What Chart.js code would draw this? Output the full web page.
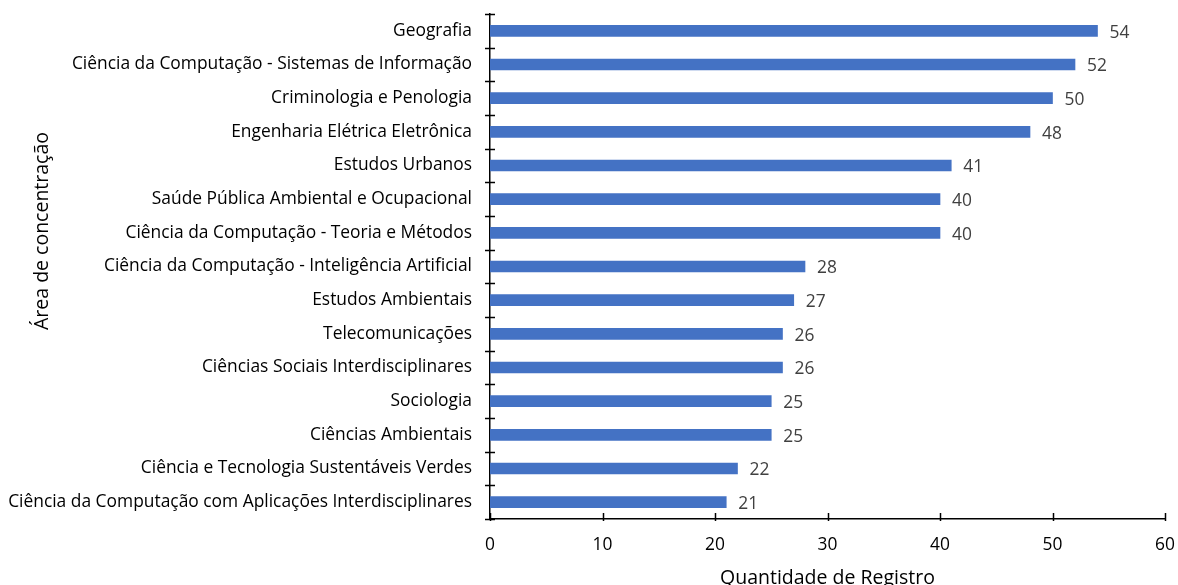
<!DOCTYPE html>
<html>
<head>
<meta charset="utf-8">
<script src="https://cdn.jsdelivr.net/npm/chart.js@4"></script>
<style>
  html, body { margin: 0; padding: 0; background: #fff; }
  #wrap { width: 1178px; height: 585px; }
</style>
</head>
<body>
<div id="wrap"><canvas id="c" width="1178" height="585"></canvas></div>
<script>
const categories = [
  "Geografia",
  "Ciência da Computação - Sistemas de Informação",
  "Criminologia e Penologia",
  "Engenharia Elétrica Eletrônica",
  "Estudos Urbanos",
  "Saúde Pública Ambiental e Ocupacional",
  "Ciência da Computação - Teoria e Métodos",
  "Ciência da Computação - Inteligência Artificial",
  "Estudos Ambientais",
  "Telecomunicações",
  "Ciências Sociais Interdisciplinares",
  "Sociologia",
  "Ciências Ambientais",
  "Ciência e Tecnologia Sustentáveis Verdes",
  "Ciência da Computação com Aplicações Interdisciplinares"
];
const registros = [54, 52, 50, 48, 41, 40, 40, 28, 27, 26, 26, 25, 25, 22, 21];
const xTicks = [0, 10, 20, 30, 40, 50, 60];
const xTitle = "Quantidade de Registro";
const yTitle = "Área de concentração";

const FONT = "'Open Sans', sans-serif";
const LABEL_SIZE = 17.4;
const TITLE_SIZE = 19.5;

// tick marks: crossing marks on the category axis, inward marks on the value axis
const tickMarks = {
  id: 'tickMarks',
  afterDraw(chart) {
    const ctx = chart.ctx;
    const x = chart.scales.x, y = chart.scales.y;
    ctx.save();
    ctx.strokeStyle = '#000';
    ctx.lineWidth = 1.5;
    const n = categories.length;
    const band = (y.bottom - y.top) / n;
    for (let i = 0; i <= n; i++) {
      const py = Math.round(y.top + i * band) + 0.5;
      ctx.beginPath();
      ctx.moveTo(x.left - 5, py);
      ctx.lineTo(x.left + 5, py);
      ctx.stroke();
    }
    xTicks.forEach(v => {
      const px = Math.round(x.getPixelForValue(v)) + 0.5;
      ctx.beginPath();
      ctx.moveTo(px, y.bottom - 6);
      ctx.lineTo(px, y.bottom + 2);
      ctx.stroke();
    });
    ctx.restore();
  }
};

// value labels at the end of each bar and the rotated category-axis title
const barLabels = {
  id: 'barLabels',
  afterDatasetsDraw(chart) {
    const ctx = chart.ctx;
    const meta = chart.getDatasetMeta(0);
    ctx.save();
    ctx.font = LABEL_SIZE + "px " + FONT;
    ctx.fillStyle = '#404040';
    ctx.textAlign = 'left';
    ctx.textBaseline = 'middle';
    meta.data.forEach((bar, i) => {
      ctx.fillText(String(registros[i]), bar.x + 12, bar.y + 2);
    });
    ctx.restore();

    ctx.save();
    ctx.font = TITLE_SIZE + "px " + FONT;
    ctx.fillStyle = '#000';
    ctx.textAlign = 'center';
    ctx.textBaseline = 'middle';
    ctx.translate(42, 231);
    ctx.rotate(-Math.PI / 2);
    ctx.fillText(yTitle, 0, 0);
    ctx.restore();
  }
};

function noAutoPadding(scale) {
  scale.paddingLeft = 0;
  scale.paddingRight = 0;
  scale.paddingTop = 0;
  scale.paddingBottom = 0;
}

new Chart(document.getElementById('c'), {
  type: 'bar',
  data: {
    labels: categories,
    datasets: [{
      data: registros,
      backgroundColor: '#4472C4',
      barThickness: 11
    }]
  },
  options: {
    indexAxis: 'y',
    responsive: false,
    animation: false,
    layout: { padding: { top: 14, right: 13, left: 0, bottom: 0 } },
    plugins: { legend: { display: false }, tooltip: { enabled: false } },
    scales: {
      x: {
        min: 0, max: 60,
        afterBuildTicks(scale) { scale.ticks = xTicks.map(v => ({ value: v })); },
        afterFit(scale) { scale.height = 66; noAutoPadding(scale); },
        grid: { display: false, drawTicks: false },
        border: { display: true, color: '#000', width: 1.5 },
        ticks: { color: '#000', font: { family: FONT, size: LABEL_SIZE }, padding: 16 },
        title: {
          display: true, text: xTitle, color: '#000',
          font: { family: FONT, size: TITLE_SIZE }, padding: { top: 10, bottom: -5 }
        }
      },
      y: {
        afterFit(scale) { scale.width = 490; noAutoPadding(scale); },
        grid: { display: false, drawTicks: false },
        border: { display: true, color: '#000', width: 1.5 },
        ticks: { color: '#000', font: { family: FONT, size: LABEL_SIZE }, padding: 18 }
      }
    }
  },
  plugins: [tickMarks, barLabels]
});
</script>
</body>
</html>
